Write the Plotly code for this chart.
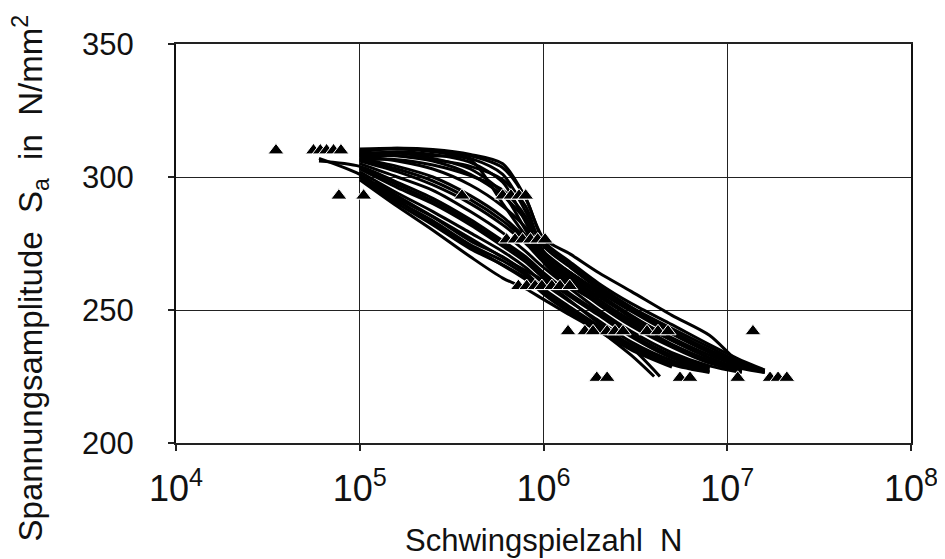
import plotly.graph_objects as go

# ---------------- data ----------------
# common abscissa grid (load cycles N) for the fitted curves
N_grid = [6e4, 1e5, 1.6e5, 2.5e5, 4e5, 6e5, 8e5, 1e6, 1.4e6, 2e6, 3e6, 5e6, 8e6, 1.2e7, 1.6e7]

# stress amplitude of each curve at N_grid (None = curve not present there)
curve_A   = [None, 309.5, 310.8, 310.3, 308.5, 305.0, 292.0, 277.0, 271.0, 264.0, 257.0, 248.0, 240.5, 229.5, 226.5]
curve_U2  = [None, 310.0, 310.5, 309.5, 307.0, 301.0, 287.0, 274.0, 266.0, 258.0, 251.0, 243.0, 236.0, 230.0, 227.0]
curve_U3  = [None, 308.5, 309.5, 308.5, 305.5, 298.0, 283.0, 271.0, 264.0, 257.0, 249.5, 241.0, 234.0, 229.0, 227.0]
curve_U4  = [None, 309.0, 309.0, 307.0, 303.0, 294.0, 280.0, 269.0, 262.0, 255.0, 247.5, 239.5, 233.0, 228.5, None]
curve_U5  = [None, 307.5, 308.0, 306.5, 304.0, 299.0, 289.0, 272.0, 263.0, 256.0, 247.0, 238.5, 232.0, 227.5, None]
curve_U6  = [None, 306.5, 306.5, 304.5, 300.5, 295.0, 285.0, 268.0, 259.0, 252.5, 245.0, 237.0, 231.0, 227.0, None]
curve_U7  = [None, 308.0, 309.0, 308.0, 306.5, 290.0, 278.0, 271.0, 264.0, 257.0, 250.0, 242.0, 235.0, 229.5, None]
curve_U8  = [None, 310.5, 310.8, 310.0, 308.0, 303.5, 292.0, 276.0, 268.0, 260.0, 252.5, 244.5, 237.0, 231.0, 227.5]
curve_M0  = [None, 309.0, 308.0, 306.0, 301.0, 293.0, 284.0, 275.0, 267.0, 259.0, 251.0, 242.0, 234.5, 229.0, 227.0]
curve_M1  = [None, 308.0, 306.0, 303.0, 297.0, 289.0, 281.0, 272.0, 264.0, 256.0, 248.0, 239.0, 232.0, 228.0, 226.5]
curve_M2  = [None, 307.0, 304.0, 300.0, 293.0, 285.0, 277.0, 270.0, 262.0, 254.0, 246.0, 237.0, 231.0, 227.0, None]
curve_M2b = [None, 306.5, 303.0, 298.5, 291.5, 283.5, 276.0, 269.0, 261.0, 253.0, 245.0, 236.5, 230.5, 227.0, None]
curve_M3  = [None, 306.0, 302.0, 297.0, 290.0, 282.0, 275.0, 268.0, 260.0, 252.0, 244.0, 236.0, 230.0, 227.0, None]
curve_M4  = [None, 305.0, 300.0, 295.0, 287.0, 279.0, 272.0, 266.0, 258.0, 250.0, 242.0, 234.0, 229.0, 226.5, None]
curve_M5  = [306.0, 304.0, 298.0, 292.0, 284.0, 276.0, 270.0, 264.0, 256.0, 249.0, 241.0, 233.0, 228.5, None, None]
curve_M5b = [None, 303.5, 297.0, 291.0, 283.0, 275.0, 269.0, 263.0, 255.5, 248.5, 240.5, 232.5, 228.0, None, None]
curve_M6  = [None, 303.0, 296.0, 290.0, 282.0, 274.0, 268.0, 262.0, 255.0, 248.0, 240.0, 232.0, 228.0, None, None]
curve_M7  = [None, 302.0, 294.0, 287.0, 279.0, 272.0, 266.0, 260.0, 253.0, 246.0, 238.0, 231.0, 227.5, None, None]
curve_M8  = [307.0, 301.0, 292.0, 285.0, 276.0, 270.0, 264.0, 258.0, 251.0, 244.0, 237.0, 230.0, 227.0, None, None]
curve_M8b = [None, 300.5, 291.0, 283.5, 274.5, 268.5, 263.0, 257.0, 250.0, 243.5, 236.5, 230.0, 226.8, None, None]
curve_M9  = [None, 300.0, 290.0, 282.0, 273.0, 267.0, 262.0, 256.0, 249.0, 243.0, 236.0, 229.5, 226.5, None, None]
curve_M10 = [None, 299.0, 289.0, 280.0, 270.0, 262.0, 258.0, 254.0, 248.0, 242.0, 235.0, 228.5, None, None, None]

# two short lower curves with their own abscissae
curve_L1_N = [1.2e5, 2e5, 4e5, 7e5, 1e6, 2e6, 3e6, 4.3e6]
curve_L1_S = [298.0, 289.0, 277.0, 267.0, 261.0, 245.0, 236.0, 225.0]
curve_L2_N = [1.1e5, 2e5, 4e5, 7e5, 1e6, 2e6, 3e6, 4.0e6]
curve_L2_S = [299.0, 287.0, 274.0, 264.0, 257.0, 242.5, 233.0, 225.0]

# test results (triangles): stress level and the cycles of each specimen
level_1_S, level_1_N = 310.0, [3.5e4, 5.6e4, 6.1e4, 6.6e4, 7.2e4, 7.9e4]
level_2_S, level_2_N = 293.0, [7.7e4, 1.05e5, 3.6e5, 6.0e5, 6.65e5, 7.36e5, 8.0e5]
level_3_S, level_3_N = 276.5, [6.3e5, 7.0e5, 7.7e5, 8.5e5, 9.3e5, 1.02e6]
level_4_S, level_4_N = 259.0, [7.3e5, 8.1e5, 9.0e5, 9.8e5, 1.11e6, 1.23e6, 1.39e6]
level_5_S, level_5_N = 242.0, [1.36e6, 1.68e6, 1.86e6, 2.22e6, 2.45e6, 2.71e6, 3.66e6, 4.2e6, 4.76e6, 1.38e7]
level_6_S, level_6_N = 224.5, [1.95e6, 2.22e6, 5.53e6, 6.27e6, 1.14e7, 1.71e7, 1.89e7, 2.11e7]

x_ticks = [1e4, 1e5, 1e6, 1e7, 1e8]
x_tick_labels = ["10<sup>4</sup>", "10<sup>5</sup>", "10<sup>6</sup>", "10<sup>7</sup>", "10<sup>8</sup>"]
y_ticks = [200, 250, 300, 350]

# ---------------- figure ----------------
FONT = "Liberation Sans, Arial, Helvetica, sans-serif"
fig = go.Figure()

grid_curves = [curve_A, curve_U2, curve_U3, curve_U4, curve_U5, curve_U6, curve_U7, curve_U8,
               curve_M0, curve_M1, curve_M2, curve_M2b, curve_M3, curve_M4, curve_M5, curve_M5b,
               curve_M6, curve_M7, curve_M8, curve_M8b, curve_M9, curve_M10]
line_style = dict(color="black", width=3, shape="spline", smoothing=0.8)
for c in grid_curves:
    fig.add_trace(go.Scatter(x=N_grid, y=c, mode="lines", line=line_style,
                             connectgaps=False, showlegend=False, hoverinfo="skip"))
for xs, ys in [(curve_L1_N, curve_L1_S), (curve_L2_N, curve_L2_S)]:
    fig.add_trace(go.Scatter(x=xs, y=ys, mode="lines", line=line_style,
                             showlegend=False, hoverinfo="skip"))

for s, ns in [(level_1_S, level_1_N), (level_2_S, level_2_N), (level_3_S, level_3_N),
              (level_4_S, level_4_N), (level_5_S, level_5_N), (level_6_S, level_6_N)]:
    fig.add_trace(go.Scatter(x=ns, y=[s] * len(ns), mode="markers",
                             marker=dict(symbol="triangle-up", size=14, color="black",
                                         line=dict(color="white", width=1)),
                             showlegend=False, hoverinfo="skip"))

fig.update_xaxes(type="log", range=[3.99999, 8.00001], tickvals=x_ticks, ticktext=x_tick_labels,
                 showgrid=True, gridcolor="#222", gridwidth=1,
                 showline=True, linecolor="#222", linewidth=1.5, mirror=True,
                 ticks="outside", ticklen=6, tickcolor="#222", tickwidth=1.5,
                 ticklabelstandoff=7, ticklabeloverflow="allow",
                 tickfont=dict(family=FONT, size=36, color="#111"), zeroline=False)
fig.update_yaxes(range=[200, 350], tickvals=y_ticks,
                 showgrid=True, gridcolor="#222", gridwidth=1,
                 showline=True, linecolor="#111", linewidth=2, mirror=True,
                 ticks="outside", ticklen=6, tickcolor="#222", tickwidth=1.5,
                 ticklabelstandoff=28,
                 tickfont=dict(family=FONT, size=31, color="#111"), zeroline=False)

fig.add_annotation(text="Schwingspielzahl\u00a0\u00a0N", xref="paper", yref="paper",
                   x=0.5, y=-0.2456, xanchor="center", yanchor="middle", showarrow=False,
                   font=dict(family=FONT, size=31, color="#111"))
fig.add_annotation(text="Spannungsamplitude\u00a0\u00a0S<sub>a</sub>\u00a0\u00a0in\u00a0\u00a0N/mm<sup>2</sup>",
                   xref="paper", yref="paper", x=-0.198, y=0.4135, textangle=-90,
                   xanchor="center", yanchor="middle", showarrow=False,
                   font=dict(family=FONT, size=33, color="#111"))

# the page body adds an 8 px offset, so margins are reduced by 8 px on the left/top
fig.update_layout(width=945, height=559, margin=dict(l=168, r=42, t=36, b=124),
                  paper_bgcolor="white", plot_bgcolor="white",
                  font=dict(family=FONT, size=30, color="#111"))

fig.write_html("out.html")
